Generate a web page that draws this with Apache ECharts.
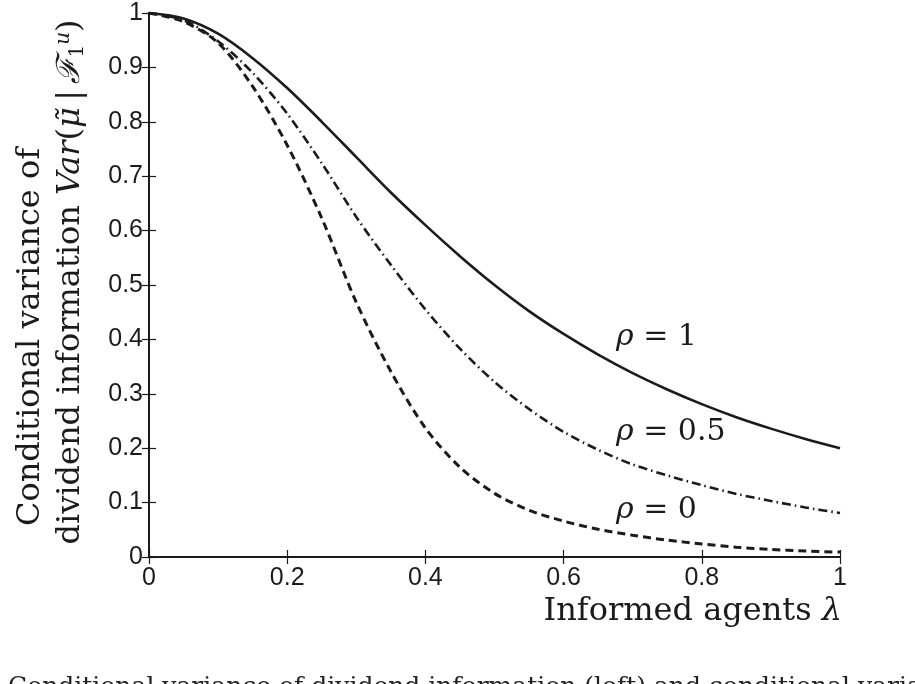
<!DOCTYPE html>
<html>
<head>
<meta charset="utf-8">
<script src="https://cdn.jsdelivr.net/npm/echarts@6/dist/echarts.min.js"></script>
<style>
  html, body { margin: 0; padding: 0; background: #fff; }
  #chart { width: 915px; height: 684px; }
</style>
</head>
<body>
<div id="chart"></div>
<script>
  // informed agents lambda (x)
  const lambda = [0, 0.05, 0.1, 0.15, 0.2, 0.25, 0.3, 0.35, 0.4, 0.45, 0.5,
                  0.55, 0.6, 0.65, 0.7, 0.75, 0.8, 0.85, 0.9, 0.95, 1];
  // conditional variance
  const rho1  = [1.000, 0.990, 0.962, 0.917, 0.862, 0.800, 0.735, 0.670, 0.610, 0.553, 0.500,
                 0.452, 0.410, 0.372, 0.338, 0.308, 0.281, 0.257, 0.236, 0.217, 0.200];
  const rho05 = [1.000, 0.987, 0.948, 0.890, 0.815, 0.724, 0.625, 0.537, 0.455, 0.383, 0.322,
                 0.272, 0.230, 0.197, 0.170, 0.150, 0.132, 0.116, 0.103, 0.091, 0.081];
  const rho0  = [1.000, 0.984, 0.945, 0.865, 0.757, 0.623, 0.468, 0.341, 0.237, 0.165, 0.117,
                 0.086, 0.066, 0.051, 0.040, 0.031, 0.024, 0.018, 0.014, 0.011, 0.009];
  const curveLabels = ['ρ = 1', 'ρ = 0.5', 'ρ = 0'];

  const pairs = (ys) => lambda.map((x, i) => [x, ys[i]]);

  const ink = '#1b1b1b';
  const tickFont = { fontFamily: 'Liberation Sans', fontSize: 25, color: ink };
  const serif = 'DejaVu Serif';

  function axisBase(extra) {
    return Object.assign({
      type: 'value',
      min: 0,
      max: 1,
      axisLine: { show: true, lineStyle: { color: ink, width: 2 } },
      axisTick: { show: true, inside: true, length: 7, lineStyle: { color: ink, width: 1.2 } },
      splitLine: { show: false }
    }, extra);
  }

  function lineSeries(name, ys, type, width) {
    return {
      name: name,
      type: 'line',
      data: pairs(ys),
      showSymbol: false,
      smooth: 0.3,
      lineStyle: { color: ink, width: width, type: type },
      z: 3
    };
  }

  function rhoLabel(txt, left, baseline) {
    const parts = txt.split(' = ');
    return {
      type: 'text',
      left: left,
      top: baseline - 30,
      style: {
        text: '{r|' + parts[0] + '}{n| = ' + parts[1] + '}',
        rich: {
          r: { fontFamily: serif, fontStyle: 'italic', fontSize: 30, fill: ink },
          n: { fontFamily: serif, fontSize: 30, fill: ink }
        }
      }
    };
  }

  const chart = echarts.init(document.getElementById('chart'));
  chart.setOption({
    animation: false,
    backgroundColor: '#fff',
    grid: { left: 149, right: 75, top: 13, bottom: 127 },
    xAxis: [
      axisBase({ position: 'bottom', interval: 0.2,
        axisLabel: Object.assign({ margin: 9 }, tickFont) }),
      axisBase({ position: 'top', interval: 0.2, axisLabel: { show: false } })
    ],
    yAxis: [
      axisBase({ position: 'left', interval: 0.1,
        axisLabel: Object.assign({ margin: 6 }, tickFont) }),
      axisBase({ position: 'right', interval: 0.1, axisLabel: { show: false } })
    ],
    series: [
      lineSeries(curveLabels[0], rho1, 'solid', 2.6),
      lineSeries(curveLabels[1], rho05, [9, 4, 1.5, 4], 2.6),
      lineSeries(curveLabels[2], rho0, [8, 5], 3)
    ],
    graphic: [
      rhoLabel(curveLabels[0], 616, 352),
      rhoLabel(curveLabels[1], 616, 447),
      rhoLabel(curveLabels[2], 616, 525),
      {
        type: 'text',
        right: 73,
        top: 596,
        style: {
          text: '{n|Informed agents }{i|λ}',
          rich: {
            n: { fontFamily: serif, fontSize: 32, fill: ink },
            i: { fontFamily: serif, fontStyle: 'italic', fontSize: 32, fill: ink }
          }
        }
      },
      {
        type: 'text',
        x: 31,
        y: 337,
        rotation: Math.PI / 2,
        style: {
          text: 'Conditional variance of',
          fontFamily: serif,
          fontSize: 32,
          fill: ink,
          align: 'center',
          verticalAlign: 'middle'
        }
      },
      {
        type: 'text',
        x: 71,
        y: 282,
        rotation: Math.PI / 2,
        style: {
          text: '{n|dividend information }{i|Var}{n|(}{i|μ̃}{n|\u2009|\u2009}{f|ℱ}{sub|1}{sup|u}{n|)}',
          align: 'center',
          verticalAlign: 'middle',
          rich: {
            n: { fontFamily: serif, fontSize: 32, fill: ink },
            i: { fontFamily: serif, fontStyle: 'italic', fontSize: 32, fill: ink },
            f: { fontFamily: serif, fontStyle: 'italic', fontSize: 32, fill: ink },
            sub: { fontFamily: serif, fontSize: 20, fill: ink, verticalAlign: 'bottom', padding: [14, 0, 0, 0] },
            sup: { fontFamily: serif, fontStyle: 'italic', fontSize: 20, fill: ink, verticalAlign: 'top', padding: [0, 0, 14, 0] }
          }
        }
      },
      {
        type: 'text',
        left: 8,
        top: 675,
        style: {
          text: 'Conditional variance of dividend information (left) and conditional variance of',
          fontFamily: serif,
          fontSize: 25,
          fill: '#222'
        }
      }
    ]
  });
</script>
</body>
</html>
